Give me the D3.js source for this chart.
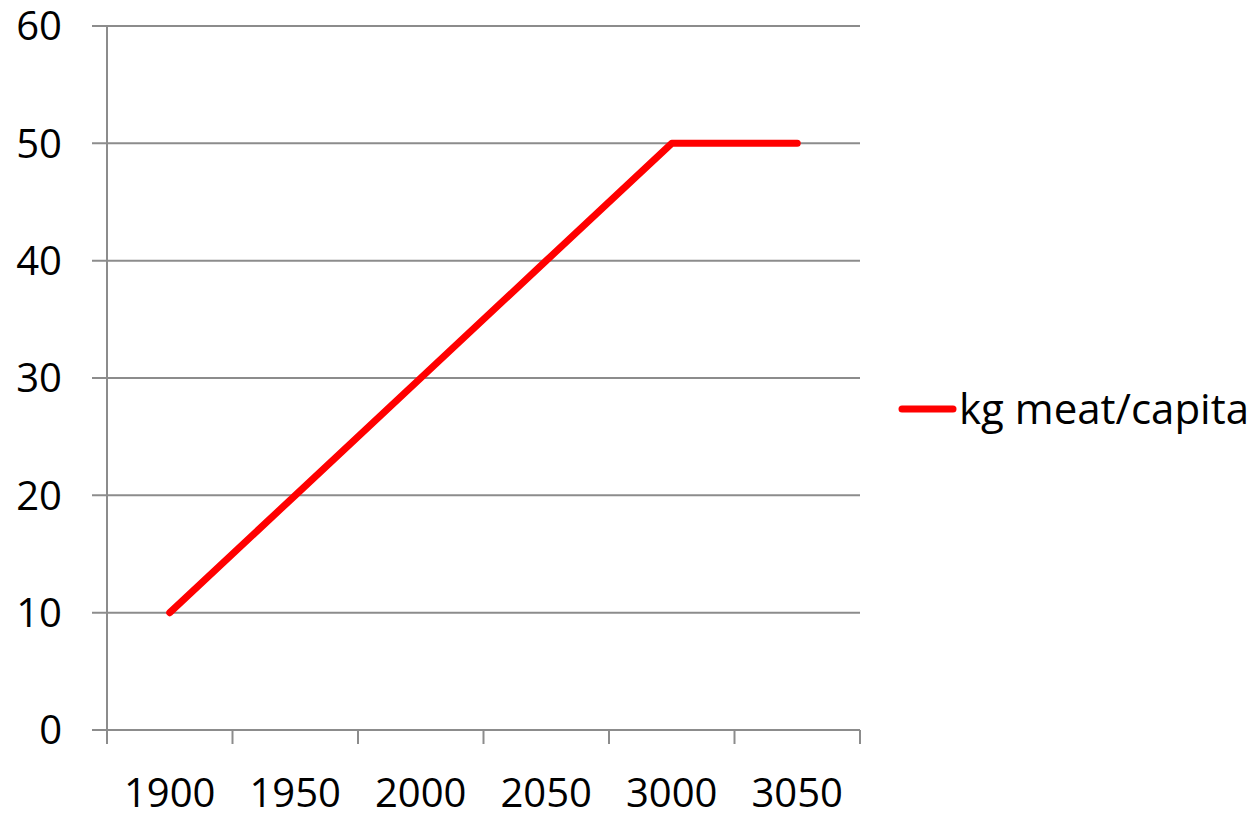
<!DOCTYPE html>
<html>
<head>
<meta charset="utf-8">
<script src="https://cdn.jsdelivr.net/npm/d3@7"></script>
<style>
body{margin:0;background:#fff;}
text{font-family:"Open Sans",sans-serif;fill:#000;}
</style>
</head>
<body>
<svg></svg>
<script>
var width=1256;
var height=813;

var years=['1900','1950','2000','2050','3000','3050'];
var meat=[10,20,30,40,50,50];
var yTicks=[0,10,20,30,40,50,60];
var seriesName='kg meat/capita';

var plotLeft=107, plotRight=860, plotTop=26, plotBottom=730;

var svg=d3.select('svg')
	.attr('width',width)
	.attr('height',height);

var xScale=d3.scaleBand()
			.domain(years)
			.range([plotLeft,plotRight]);
var yScale=d3.scaleLinear()
			.domain([0,60])
			.range([plotBottom,plotTop]);

// horizontal grid
svg.append('g')
	.selectAll('line')
	.data(yTicks)
	.enter()
	.append('line')
		.attr('x1',plotLeft-15)
		.attr('x2',plotRight)
		.attr('y1',d=>yScale(d))
		.attr('y2',d=>yScale(d))
		.attr('stroke','#8c8c8c')
		.attr('stroke-width',2);

// y axis line
svg.append('line')
	.attr('x1',plotLeft).attr('x2',plotLeft)
	.attr('y1',plotTop).attr('y2',plotBottom+14)
	.attr('stroke','#8c8c8c')
	.attr('stroke-width',2);

// x category ticks
var bounds=years.map(d=>xScale(d)).concat([plotRight]);
svg.append('g')
	.selectAll('line')
	.data(bounds.slice(1))
	.enter()
	.append('line')
		.attr('x1',d=>d).attr('x2',d=>d)
		.attr('y1',plotBottom).attr('y2',plotBottom+14)
		.attr('stroke','#8c8c8c')
		.attr('stroke-width',2);

// y labels
svg.append('g')
	.selectAll('text')
	.data(yTicks)
	.enter()
	.append('text')
		.attr('x',62)
		.attr('y',d=>yScale(d))
		.attr('dy','0.36em')
		.style('text-anchor','end')
		.style('font-size','40px')
		.text(d=>d);

// x labels
svg.append('g')
	.selectAll('text')
	.data(years)
	.enter()
	.append('text')
		.attr('x',d=>xScale(d)+xScale.bandwidth()/2)
		.attr('y',807)
		.style('text-anchor','middle')
		.style('font-size','40px')
		.text(d=>d);

var line=d3.line()
	.x((d,i)=>xScale(years[i])+xScale.bandwidth()/2)
	.y(d=>yScale(d));

svg.append('path')
	.datum(meat)
	.attr('d',line)
	.attr('fill','none')
	.attr('stroke','#ff0000')
	.attr('stroke-width',7)
	.attr('stroke-linecap','round')
	.attr('stroke-linejoin','round');

// legend
svg.append('line')
	.attr('x1',902).attr('x2',953)
	.attr('y1',409).attr('y2',409)
	.attr('stroke','#ff0000')
	.attr('stroke-width',7)
	.attr('stroke-linecap','round');

svg.append('text')
	.attr('x',959)
	.attr('y',424)
	.style('font-size','42px')
	.text(seriesName);
</script>
</body>
</html>
